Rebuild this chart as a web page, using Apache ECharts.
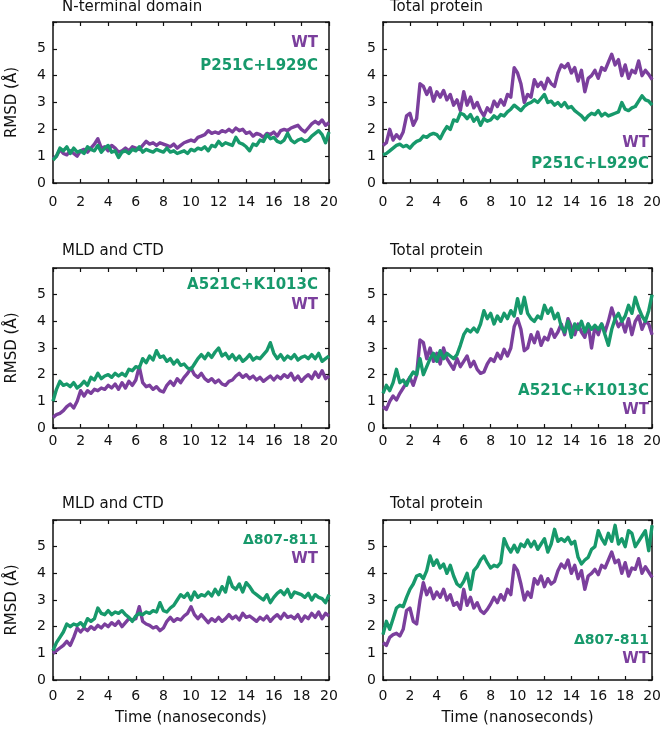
<!DOCTYPE html>
<html>
<head>
<meta charset="utf-8">
<script src="https://cdn.jsdelivr.net/npm/echarts@6/dist/echarts.min.js"></script>
<style>
html,body{margin:0;padding:0;background:#fff;}
#chart{width:664px;height:730px;}
</style>
</head>
<body>
<div id="chart"></div>
<script>
// ---------------- DATA ----------------
const TIME = [0,0.25,0.5,0.75,1,1.25,1.5,1.75,2,2.25,2.5,2.75,3,3.25,3.5,3.75,4,4.25,4.5,4.75,
  5,5.25,5.5,5.75,6,6.25,6.5,6.75,7,7.25,7.5,7.75,8,8.25,8.5,8.75,9,9.25,9.5,9.75,
  10,10.25,10.5,10.75,11,11.25,11.5,11.75,12,12.25,12.5,12.75,13,13.25,13.5,13.75,14,14.25,14.5,14.75,
  15,15.25,15.5,15.75,16,16.25,16.5,16.75,17,17.25,17.5,17.75,18,18.25,18.5,18.75,19,19.25,19.5,19.75,20];

const X_TICKS = [0,2,4,6,8,10,12,14,16,18,20];
const Y_TICKS = [0,1,2,3,4,5];

const PANEL_TITLES = ['N-terminal domain','Total protein','MLD and CTD','Total protein','MLD and CTD','Total protein'];
const MUTANT_NAMES = ['P251C+L929C','P251C+L929C','A521C+K1013C','A521C+K1013C','\u0394807-811','\u0394807-811'];
const WT_NAME = 'WT';
const X_NAME = 'Time (nanoseconds)';
const Y_NAME = 'RMSD (\u00C5)';

// Panel 1: N-terminal domain
const NTD_WT = [0.9,1.0,1.25,1.1, 1.05,1.2,1.1,1.0, 1.2,1.25,1.15,1.3, 1.45,1.65,1.3,1.35, 1.2,1.4,1.3,1.15,
  1.2,1.3,1.2,1.35, 1.3,1.25,1.4,1.55, 1.45,1.5,1.4,1.5, 1.45,1.4,1.35,1.45, 1.3,1.4,1.5,1.55,
  1.6,1.55,1.7,1.75, 1.8,1.95,1.85,1.9, 1.85,1.95,1.9,2.0, 1.9,2.05,1.95,2.0, 1.85,1.9,1.75,1.85,
  1.8,1.7,1.85,1.8, 1.9,1.75,1.95,2.0, 1.95,2.05,2.1,2.15, 2.0,1.9,2.05,2.2, 2.3,2.2,2.35,2.15, 2.25];
const NTD_MUT = [0.85,1.0,1.3,1.2, 1.35,1.1,1.3,1.15, 1.2,1.1,1.35,1.25, 1.2,1.4,1.15,1.3, 1.4,1.15,1.2,0.95,
  1.15,1.2,1.1,1.25, 1.2,1.35,1.15,1.25, 1.2,1.15,1.25,1.2, 1.15,1.3,1.15,1.2, 1.1,1.15,1.2,1.1,
  1.25,1.2,1.3,1.25, 1.35,1.2,1.4,1.35, 1.55,1.4,1.5,1.45, 1.4,1.7,1.5,1.45, 1.35,1.2,1.45,1.4,
  1.6,1.55,1.8,1.65, 1.7,1.55,1.5,1.6, 1.85,1.6,1.5,1.6, 1.65,1.55,1.6,1.75, 1.85,1.95,1.8,1.5, 1.9];

// Panel 2: Total protein (P251C+L929C)
const TOT1_WT = [1.4,1.5,2.0,1.6, 1.8,1.65,1.9,2.5, 2.6,2.15,2.4,3.7, 3.6,3.3,3.55,3.05, 3.4,3.2,3.45,3.1,
  3.3,2.9,3.1,2.7, 3.4,2.9,3.2,2.8, 3.0,2.7,2.5,2.8, 2.65,3.05,2.85,3.1, 2.9,3.3,3.2,4.3,
  4.1,3.7,3.0,3.3, 3.2,3.85,3.6,3.75, 3.5,3.9,3.7,3.6, 4.1,4.4,4.3,4.45, 4.1,4.3,3.8,4.2,
  3.4,3.9,4.0,4.2, 3.9,4.3,4.2,4.5, 4.8,4.4,4.6,4.0, 4.4,3.9,4.2,4.1, 4.55,4.0,4.2,4.05, 3.85];
const TOT1_MUT = [1.05,1.1,1.2,1.3, 1.4,1.45,1.35,1.4, 1.3,1.45,1.55,1.6, 1.75,1.7,1.8,1.85, 1.8,1.65,1.9,2.1,
  2.0,2.35,2.3,2.6, 2.55,2.4,2.55,2.3, 2.45,2.15,2.4,2.3, 2.35,2.5,2.4,2.55, 2.5,2.65,2.75,2.9,
  2.8,2.7,2.85,2.95, 3.0,3.1,3.0,3.15, 3.3,3.0,3.05,2.9, 3.0,2.85,3.0,2.8, 2.85,2.7,2.6,2.5,
  2.35,2.5,2.6,2.55, 2.7,2.5,2.6,2.5, 2.55,2.6,2.65,3.0, 2.75,2.7,2.8,2.85, 3.05,3.25,3.1,3.05, 2.9];

// Panel 3: MLD and CTD (A521C+K1013C)
const MLD1_WT = [0.4,0.5,0.55,0.65, 0.8,0.9,0.75,1.0, 1.4,1.2,1.4,1.3, 1.45,1.4,1.5,1.45, 1.6,1.5,1.65,1.45,
  1.7,1.5,1.75,1.6, 1.8,2.3,1.7,1.55, 1.6,1.45,1.55,1.4, 1.35,1.6,1.75,1.6, 1.85,1.7,1.9,2.05,
  2.25,2.0,1.9,2.05, 1.85,1.75,1.85,1.7, 1.8,1.65,1.6,1.75, 1.8,1.95,2.05,1.9, 2.0,1.85,1.95,1.8,
  1.9,1.75,1.85,1.95, 1.8,1.95,1.85,2.0, 1.9,2.05,1.8,1.95, 1.75,1.9,2.0,1.85, 2.1,1.9,2.15,1.85, 1.95];
const MLD1_MUT = [1.0,1.45,1.75,1.6, 1.65,1.55,1.7,1.5, 1.6,1.75,1.6,1.9, 1.8,2.05,1.85,1.95, 2.0,1.9,2.05,1.95,
  2.05,1.95,2.2,2.15, 2.3,2.25,2.6,2.45, 2.7,2.55,2.9,2.65, 2.7,2.5,2.6,2.4, 2.55,2.35,2.4,2.25,
  2.2,2.4,2.6,2.75, 2.6,2.8,2.65,2.85, 3.0,2.7,2.8,2.6, 2.75,2.55,2.7,2.5, 2.6,2.75,2.55,2.65,
  2.6,2.75,2.9,3.2, 2.8,2.6,2.75,2.55, 2.7,2.6,2.75,2.55, 2.65,2.7,2.6,2.75, 2.6,2.8,2.5,2.6, 2.7];

// Panel 4: Total protein (A521C+K1013C)
const TOT2_WT = [0.8,0.7,1.0,1.2, 1.05,1.3,1.5,1.7, 1.9,1.6,2.0,3.3, 3.2,2.6,3.0,2.5, 2.8,2.4,3.0,2.6,
  2.4,2.2,2.6,2.3, 2.5,2.7,2.3,2.5, 2.2,2.05,2.1,2.4, 2.6,2.5,2.8,2.6, 2.95,2.7,3.0,3.8,
  4.1,3.7,2.9,3.0, 3.5,3.2,3.6,3.1, 3.4,3.3,3.7,3.4, 3.6,3.9,3.5,4.1, 3.8,3.5,3.9,3.6,
  3.4,3.9,3.0,3.8, 3.5,3.9,3.6,4.0, 4.5,4.1,3.8,4.0, 3.6,4.1,3.5,4.0, 4.2,3.7,4.0,3.9, 3.5];
const TOT2_MUT = [1.3,1.6,1.4,1.7, 2.2,1.7,1.8,1.6, 1.9,2.1,2.0,2.6, 2.0,2.3,2.6,2.8, 2.5,2.9,2.6,2.8,
  2.7,2.6,2.75,3.1, 3.5,3.7,3.6,3.75, 3.6,3.9,4.4,4.1, 4.3,3.9,4.2,4.0, 4.3,4.1,4.4,4.2,
  4.85,4.3,4.9,4.3, 4.1,4.0,4.2,4.1, 4.6,4.3,4.5,4.1, 4.3,3.8,3.6,4.0, 3.4,3.9,3.7,4.0,
  3.6,3.9,3.7,3.85, 3.7,3.9,3.5,3.1, 3.7,4.1,4.3,4.0, 4.2,4.6,4.3,4.9, 4.5,4.2,4.0,4.4, 5.0];

// Panel 5: MLD and CTD (delta 807-811)
const MLD2_WT = [1.0,1.1,1.2,1.3, 1.45,1.3,1.6,1.95, 1.8,1.95,1.85,2.0, 1.9,2.05,1.95,2.1, 2.0,2.15,2.05,2.2,
  2.0,2.15,2.3,2.25, 2.3,2.75,2.2,2.1, 2.05,1.95,2.0,1.85, 1.95,2.2,2.35,2.2, 2.3,2.25,2.4,2.5,
  2.75,2.45,2.3,2.45, 2.3,2.15,2.3,2.2, 2.35,2.2,2.3,2.45, 2.3,2.4,2.25,2.5, 2.35,2.4,2.3,2.2,
  2.35,2.25,2.4,2.2, 2.35,2.45,2.3,2.5, 2.35,2.4,2.3,2.45, 2.2,2.4,2.3,2.5, 2.35,2.55,2.3,2.5, 2.4];
const MLD2_MUT = [1.1,1.4,1.6,1.8, 2.1,2.0,2.1,2.05, 2.15,2.0,2.3,2.2, 2.3,2.7,2.5,2.45, 2.6,2.45,2.55,2.5,
  2.6,2.45,2.35,2.2, 2.4,2.5,2.45,2.55, 2.5,2.6,2.55,2.9, 2.6,2.55,2.7,2.8, 3.0,3.2,3.1,3.25,
  3.0,3.3,3.1,3.2, 3.15,3.3,3.15,3.4, 3.2,3.5,3.3,3.85, 3.5,3.4,3.6,3.3, 3.65,3.5,3.3,3.2,
  3.1,3.0,3.2,2.9, 3.1,3.25,3.35,3.2, 3.4,3.1,3.3,3.25, 3.2,3.1,3.25,3.0, 3.2,3.1,3.05,2.9, 3.2];

// Panel 6: Total protein (delta 807-811)
const TOT3_WT = [1.4,1.3,1.6,1.7, 1.75,1.65,1.9,2.6, 2.7,2.2,2.1,3.0, 3.65,3.2,3.45,3.05, 3.3,3.1,3.4,3.0,
  3.2,2.8,2.9,2.65, 3.4,2.8,3.1,2.7, 2.9,2.6,2.5,2.65, 2.85,3.1,2.9,3.2, 3.0,3.4,3.2,4.3,
  4.1,3.6,3.0,3.3, 3.1,3.8,3.6,3.9, 3.5,3.8,3.6,3.7, 4.1,4.35,4.2,4.5, 4.0,4.3,3.8,4.1,
  3.4,3.9,4.0,4.15, 3.95,4.3,4.2,4.5, 4.8,4.4,4.5,4.0, 4.4,3.9,4.2,4.15, 4.55,4.0,4.25,4.05, 3.85];
const TOT3_MUT = [1.7,2.2,1.9,2.3, 2.7,2.8,2.75,3.1, 3.4,3.6,3.9,3.95, 3.8,4.1,4.65,4.3, 4.5,4.2,4.35,4.0,
  4.3,3.9,3.6,3.5, 3.7,4.0,3.4,4.1, 4.25,4.5,4.65,4.4, 4.2,4.3,4.25,4.4, 5.3,5.0,4.8,5.05,
  4.8,5.1,5.0,5.25, 5.0,5.2,4.9,5.1, 5.3,4.8,5.1,5.65, 5.2,5.3,5.2,5.35, 5.1,5.2,4.6,4.35,
  4.5,4.6,4.9,5.0, 5.6,5.3,5.1,5.5, 5.2,5.8,5.1,5.3, 5.0,5.6,5.5,5.0, 5.2,5.4,5.6,4.85, 5.8];

const WT_SERIES = [NTD_WT, TOT1_WT, MLD1_WT, TOT2_WT, MLD2_WT, TOT3_WT];
const MUT_SERIES = [NTD_MUT, TOT1_MUT, MLD1_MUT, TOT2_MUT, MLD2_MUT, TOT3_MUT];

// ---------------- STYLE / LAYOUT ----------------
const PURPLE = '#7b3f9d';
const GREEN = '#17996b';
const INK = '#111111';
const FONT = '"DejaVu Sans", "Liberation Sans", Arial, sans-serif';

const GRIDS = [
  {left:53,  top:22,  width:276, height:161, labelMargin:12, titleX:62,  titleY:7},
  {left:383, top:22,  width:276, height:161, labelMargin:12, titleX:390, titleY:7},
  {left:53,  top:268, width:276, height:160, labelMargin:6,  titleX:62,  titleY:251},
  {left:383, top:268, width:276, height:160, labelMargin:6,  titleX:390, titleY:251},
  {left:53,  top:520, width:276, height:160, labelMargin:9,  titleX:62,  titleY:504},
  {left:383, top:520, width:276, height:160, labelMargin:9,  titleX:390, titleY:504}
];
// legend text rows: [kind, y]
const LEGEND_LAYOUT = [
  {x:318, rows:[['wt',43],['mut',66]]},
  {x:649, rows:[['wt',143],['mut',164]]},
  {x:318, rows:[['mut',285],['wt',305]]},
  {x:649, rows:[['mut',391],['wt',410]]},
  {x:318, rows:[['mut',540],['wt',559]]},
  {x:649, rows:[['mut',640],['wt',659]]}
];

const chart = echarts.init(document.getElementById('chart'));

const grid = [], xAxis = [], yAxis = [], series = [], graphic = [];
const lineAxis = {show:true, onZero:false, lineStyle:{color:INK, width:1.5}};
const tick = {show:true, inside:true, length:4, lineStyle:{color:INK, width:1.2}};

GRIDS.forEach((g, i) => {
  grid.push({left:g.left, top:g.top, width:g.width, height:g.height, containLabel:false});
  const xMin = X_TICKS[0], xMax = X_TICKS[X_TICKS.length-1];
  const isBottomRow = i >= 4, isLeftCol = i % 2 === 0;
  xAxis.push({
    type:'value', gridIndex:i, position:'bottom', min:xMin, max:xMax, interval:X_TICKS[1]-X_TICKS[0],
    axisLine:lineAxis, axisTick:tick, splitLine:{show:false},
    axisLabel:{show:true, margin:g.labelMargin, color:INK, fontSize:14, fontFamily:FONT, showMaxLabel:true, showMinLabel:true},
    name: isBottomRow ? X_NAME : '', nameLocation:'middle', nameGap:31,
    nameTextStyle:{color:INK, fontSize:15, fontFamily:FONT}
  });
  xAxis.push({
    type:'value', gridIndex:i, position:'top', min:xMin, max:xMax, interval:X_TICKS[1]-X_TICKS[0],
    axisLine:lineAxis, axisTick:tick, axisLabel:{show:false}, splitLine:{show:false}
  });
  yAxis.push({
    type:'value', gridIndex:i, position:'left', min:0, max:6, interval:1,
    axisLine:lineAxis, axisTick:tick, splitLine:{show:false},
    axisLabel:{show:true, margin:7, color:INK, fontSize:14, fontFamily:FONT,
      formatter:v => Y_TICKS.indexOf(v) >= 0 ? String(v) : ''},
    name: isLeftCol ? Y_NAME : '', nameLocation:'middle', nameGap:33, nameRotate:90,
    nameTextStyle:{color:INK, fontSize:15, fontFamily:FONT}
  });
  yAxis.push({
    type:'value', gridIndex:i, position:'right', min:0, max:6, interval:1,
    axisLine:lineAxis, axisTick:tick, axisLabel:{show:false}, splitLine:{show:false}
  });

  const wt = WT_SERIES[i].map((v, k) => [TIME[k], v]);
  const mut = MUT_SERIES[i].map((v, k) => [TIME[k], v]);
  series.push({
    type:'line', name:WT_NAME + i, xAxisIndex:2*i, yAxisIndex:2*i, data:wt,
    showSymbol:false, symbol:'none', lineStyle:{color:PURPLE, width:3.4, join:'round'}, itemStyle:{color:PURPLE},
    animation:false, z:2
  });
  series.push({
    type:'line', name:MUTANT_NAMES[i] + i, xAxisIndex:2*i, yAxisIndex:2*i, data:mut,
    showSymbol:false, symbol:'none', lineStyle:{color:GREEN, width:3.4, join:'round'}, itemStyle:{color:GREEN},
    animation:false, z:3
  });

  // panel title
  graphic.push({
    type:'text', x:g.titleX, y:g.titleY, silent:true,
    style:{text:PANEL_TITLES[i], fill:INK, fontSize:15, fontFamily:FONT,
      align:'left', textAlign:'left', verticalAlign:'middle', textVerticalAlign:'middle'}
  });
  // legend labels
  const L = LEGEND_LAYOUT[i];
  L.rows.forEach(([kind, y]) => {
    const isWT = kind === 'wt';
    const txt = isWT ? WT_NAME : MUTANT_NAMES[i];
    const isDelta = !isWT && txt.charAt(0) === '\u0394';
    graphic.push({
      type:'text', x:L.x, y:y, silent:true,
      style:{text:txt, fill:isWT ? PURPLE : GREEN,
        fontSize: isDelta ? 14 : 15, fontWeight: isDelta ? 600 : 'bold', fontFamily:FONT,
        align:'right', textAlign:'right', verticalAlign:'middle', textVerticalAlign:'middle'}
    });
  });
});

chart.setOption({
  animation:false,
  backgroundColor:'#ffffff',
  grid, xAxis, yAxis, series, graphic
});
</script>
</body>
</html>
